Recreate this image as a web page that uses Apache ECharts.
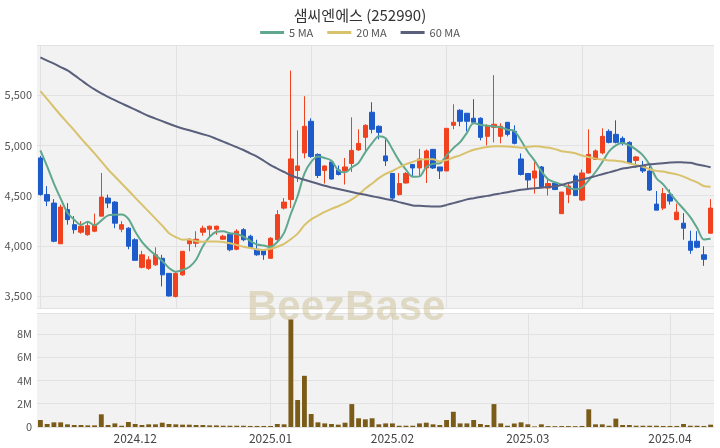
<!DOCTYPE html>
<html><head><meta charset="utf-8">
<script src="https://cdn.jsdelivr.net/npm/echarts@6/dist/echarts.min.js"></script>
<style>html,body{margin:0;padding:0;background:#fff}#c{width:720px;height:448px}</style>
</head><body><div id="c"></div>
<script>
const title = '샘씨엔에스 (252990)';
const dates = [
 '2024-11-12','2024-11-13','2024-11-14','2024-11-15','2024-11-18','2024-11-19','2024-11-20','2024-11-21','2024-11-22','2024-11-25','2024-11-26','2024-11-27','2024-11-28','2024-11-29',
 '2024-12-02','2024-12-03','2024-12-04','2024-12-05','2024-12-06','2024-12-09','2024-12-10','2024-12-11','2024-12-12','2024-12-13','2024-12-16','2024-12-17','2024-12-18','2024-12-19','2024-12-20','2024-12-23','2024-12-24','2024-12-26','2024-12-27','2024-12-30',
 '2025-01-02','2025-01-03','2025-01-06','2025-01-07','2025-01-08','2025-01-09','2025-01-10','2025-01-13','2025-01-14','2025-01-15','2025-01-16','2025-01-17','2025-01-20','2025-01-21','2025-01-22','2025-01-23','2025-01-24','2025-01-31',
 '2025-02-03','2025-02-04','2025-02-05','2025-02-06','2025-02-07','2025-02-10','2025-02-11','2025-02-12','2025-02-13','2025-02-14','2025-02-17','2025-02-18','2025-02-19','2025-02-20','2025-02-21','2025-02-24','2025-02-25','2025-02-26','2025-02-27','2025-02-28',
 '2025-03-03','2025-03-04','2025-03-05','2025-03-06','2025-03-07','2025-03-10','2025-03-11','2025-03-12','2025-03-13','2025-03-14','2025-03-17','2025-03-18','2025-03-19','2025-03-20','2025-03-21','2025-03-24','2025-03-25','2025-03-26','2025-03-27','2025-03-28','2025-03-31',
 '2025-04-01','2025-04-02','2025-04-03','2025-04-04','2025-04-07','2025-04-08','2025-04-09'
];
const opens = [4875,4510,4425,4020,4360,4210,4135,4110,4145,4295,4475,4435,4165,4175,4060,3785,3775,3810,3875,3725,
 3495,3710,4020,4025,4135,4165,4165,4065,4115,3965,4160,4095,3965,3955,3875,4060,4375,4460,4750,4925,
 5240,4910,4750,4835,4755,4745,4820,4955,5080,5330,5190,4895,4720,4510,4625,4810,4775,4775,4960,4785,
 4745,5200,5350,5320,5270,5270,5090,5180,5090,5230,5140,4865,4720,4675,4785,4575,4625,4320,4510,4695,
 4455,4725,4860,4925,5140,5110,5070,5030,4850,4800,4745,4415,4375,4510,4260,4225,4045,4045,3910,4125];
const closes = [4510,4445,4045,4385,4260,4160,4195,4200,4210,4485,4425,4225,4210,3995,3855,3910,3860,3910,3710,3500,
 3725,3945,4065,4065,4175,4195,4195,4095,3960,4145,4060,3985,3910,3910,4075,4310,4435,4865,4795,5190,
 4890,4700,4795,4665,4710,4785,4950,5020,5200,5160,5130,4845,4475,4620,4720,4775,4865,4945,4775,4745,
 5170,5230,5240,5240,5230,5080,5190,5210,5190,5110,5020,4710,4655,4745,4585,4620,4560,4535,4595,4500,
 4725,4910,4945,5090,5030,5030,5020,4825,4885,4745,4555,4355,4520,4445,4335,4175,3955,3985,3865,4375];
const lows = [4500,4395,4035,4020,4210,4120,4120,4100,4135,4295,4375,4175,4135,3965,3855,3775,3760,3800,3595,3495,
 3485,3700,3945,3985,4100,4095,4110,4060,3945,3955,4045,3975,3900,3860,3875,4045,4360,4375,4635,4870,
 4875,4675,4620,4660,4700,4610,4735,4945,4945,5120,5060,4795,4455,4500,4620,4695,4695,4625,4765,4665,
 4745,5160,5190,5140,5210,5050,5000,5030,5020,5090,5010,4700,4570,4520,4575,4500,4555,4320,4425,4495,
 4445,4720,4855,4910,5020,5020,5000,4820,4775,4725,4545,4355,4355,4410,4255,4060,3920,3975,3800,4120];
const highs = [4895,4595,4465,4410,4425,4295,4245,4235,4320,4725,4510,4445,4245,4185,4075,3950,3895,3985,3910,3725,
 3735,3945,4075,4145,4200,4200,4200,4110,4135,4165,4175,4110,4060,3960,4085,4355,4475,5745,5150,5490,
 5270,4920,4800,4855,4800,4875,5280,5160,5210,5430,5200,5060,4725,4725,4735,4810,4965,4960,4965,4785,
 5170,5410,5360,5320,5460,5280,5210,5700,5220,5230,5200,4920,4725,4855,4795,4660,4635,4535,4625,4710,
 4760,5160,4960,5170,5160,5250,5090,5040,4895,4845,4795,4545,4575,4560,4420,4325,4150,4145,3995,4465];
const volumesM = [0.6,0.26,0.4,0.4,0.23,0.17,0.17,0.14,0.14,1.09,0.17,0.31,0.11,0.43,0.26,0.17,0.23,0.23,0.37,0.26,
 0.23,0.2,0.2,0.17,0.17,0.14,0.14,0.11,0.11,0.11,0.11,0.09,0.09,0.09,0.09,0.26,0.23,9.24,2.32,4.4,
 1.12,0.4,0.31,0.26,0.2,0.37,1.97,0.75,0.66,0.75,0.23,0.31,0.31,0.11,0.11,0.11,0.31,0.37,0.23,0.17,
 0.6,1.31,0.31,0.31,0.6,0.26,0.17,1.97,0.31,0.11,0.3,0.4,0.23,0.05,0.23,0.08,0.07,0.08,0.08,0.07,
 0.09,1.52,0.23,0.23,0.11,0.72,0.17,0.17,0.11,0.11,0.11,0.11,0.09,0.09,0.09,0.26,0.11,0.11,0.09,0.2];
// moving-average values before the window fills
const ma5Lead = [4950,4790,4620,4470];
const ma20Lead = [5540,5460,5380,5300,5225,5150,5070,4995,4920,4840,4760,4690,4620,4550,4480,4410,4340,4270,4200];
const ma60 = [5877,5845,5815,5780,5747,5700,5651,5602,5557,5517,5483,5450,5418,5387,5356,5324,5293,5267,5241,5215,
 5190,5169,5150,5131,5111,5092,5065,5038,5010,4983,4954,4921,4888,4847,4803,4769,4735,4700,4677,4657,
 4637,4617,4597,4581,4566,4551,4536,4521,4508,4494,4480,4466,4453,4435,4418,4402,4398,4394,4390,4390,
 4407,4425,4443,4462,4474,4486,4497,4510,4522,4534,4546,4558,4566,4572,4579,4585,4592,4607,4625,4642,
 4659,4676,4694,4713,4731,4750,4769,4779,4790,4800,4811,4817,4823,4829,4833,4830,4826,4810,4797,4783];
const legendNames = ['5 MA','20 MA','60 MA'];

function movingAvg(n, lead) {
  return closes.map((c, i) => {
    if (i < n - 1) return lead[i];
    let s = 0; for (let k = i - n + 1; k <= i; k++) s += closes[k];
    return Math.round(s / n);
  });
}
const ma5 = movingAvg(5, ma5Lead);
const ma20 = movingAvg(20, ma20Lead);
const candleData = dates.map((d, i) => [opens[i], closes[i], lows[i], highs[i]]);
const isMonthStart = (idx) => idx > 0 && dates[idx].slice(0, 7) !== dates[idx - 1].slice(0, 7);

const FONT = 'Noto Sans CJK KR';
const UP = '#f0421f', DOWN = '#1d5bcb';
const chart = echarts.init(document.getElementById('c'), null, {renderer: 'canvas'});
chart.setOption({
  animation: false,
  backgroundColor: '#ffffff',
  textStyle: {fontFamily: FONT},
  title: {text: title, left: 'center', top: 3,
    textStyle: {fontFamily: FONT, fontSize: 15, fontWeight: 'normal', color: '#333'}},
  legend: {data: legendNames, top: 22, left: 'center', icon: 'rect', itemWidth: 24, itemHeight: 3, itemGap: 14,
    textStyle: {fontFamily: FONT, fontSize: 11, color: '#555'}},
  graphic: [{type: 'text', left: 247, top: 287, z: 1, silent: true,
    style: {text: 'BeezBase', fontFamily: 'Liberation Sans', fontSize: 42, fontWeight: 'bold', fill: 'rgba(200,186,140,0.45)'}}],
  grid: [
    {left: 37, right: 6, top: 45, height: 263, show: true, backgroundColor: '#f2f2f2', borderWidth: 0},
    {left: 37, right: 6, top: 313, height: 114, show: true, backgroundColor: '#f2f2f2', borderWidth: 0}
  ],
  xAxis: [
    {type: 'category', gridIndex: 0, data: dates, boundaryGap: true,
     axisLine: {show: false}, axisTick: {show: false}, axisLabel: {show: false},
     splitLine: {show: true, interval: 19, alignWithLabel: true, lineStyle: {color: '#e2e2e2', width: 1}}},
    {type: 'category', gridIndex: 1, data: dates, boundaryGap: true,
     axisLine: {show: false}, axisTick: {show: false},
     axisLabel: {interval: isMonthStart, fontFamily: FONT, fontSize: 12, color: '#444', margin: 5,
       formatter: v => v.slice(0, 4) + '.' + v.slice(5, 7)},
     splitLine: {show: true, interval: isMonthStart, alignWithLabel: true, lineStyle: {color: '#e2e2e2', width: 1}}}
  ],
  yAxis: [
    {type: 'value', gridIndex: 0, min: 3380, max: 6000, splitNumber: 5, scale: true,
     axisLine: {show: false}, axisTick: {show: false},
     axisLabel: {showMinLabel: false, showMaxLabel: false, fontFamily: FONT, fontSize: 11, color: '#555', margin: 5,
       formatter: v => v.toLocaleString('en-US')},
     splitLine: {lineStyle: {color: '#e2e2e2'}}},
    {type: 'value', gridIndex: 1, min: 0, max: 9.8, splitNumber: 5,
     axisLine: {show: false}, axisTick: {show: false},
     axisLabel: {showMaxLabel: false, fontFamily: FONT, fontSize: 11, color: '#555', margin: 5,
       formatter: v => v === 0 ? '0' : v + 'M'},
     splitLine: {lineStyle: {color: '#e2e2e2'}}}
  ],
  series: [
    {type: 'candlestick', name: 'price', xAxisIndex: 0, yAxisIndex: 0, data: candleData, barWidth: '72%',
     itemStyle: {color: UP, color0: DOWN, borderColor: UP, borderColor0: DOWN, borderWidth: 1}},
    {type: 'line', name: legendNames[0], xAxisIndex: 0, yAxisIndex: 0, data: ma5, symbol: 'none', smooth: 0.3,
     lineStyle: {color: '#5fa88d', width: 2}, itemStyle: {color: '#5fa88d'}},
    {type: 'line', name: legendNames[1], xAxisIndex: 0, yAxisIndex: 0, data: ma20, symbol: 'none', smooth: 0.3,
     lineStyle: {color: '#d9c26c', width: 2}, itemStyle: {color: '#d9c26c'}},
    {type: 'line', name: legendNames[2], xAxisIndex: 0, yAxisIndex: 0, data: ma60, symbol: 'none', smooth: 0.3,
     lineStyle: {color: '#5a5f7c', width: 2}, itemStyle: {color: '#5a5f7c'}},
    {type: 'bar', name: 'volume', xAxisIndex: 1, yAxisIndex: 1, data: volumesM, barWidth: '72%',
     itemStyle: {color: '#7a5c18'}}
  ]
});
</script></body></html>
